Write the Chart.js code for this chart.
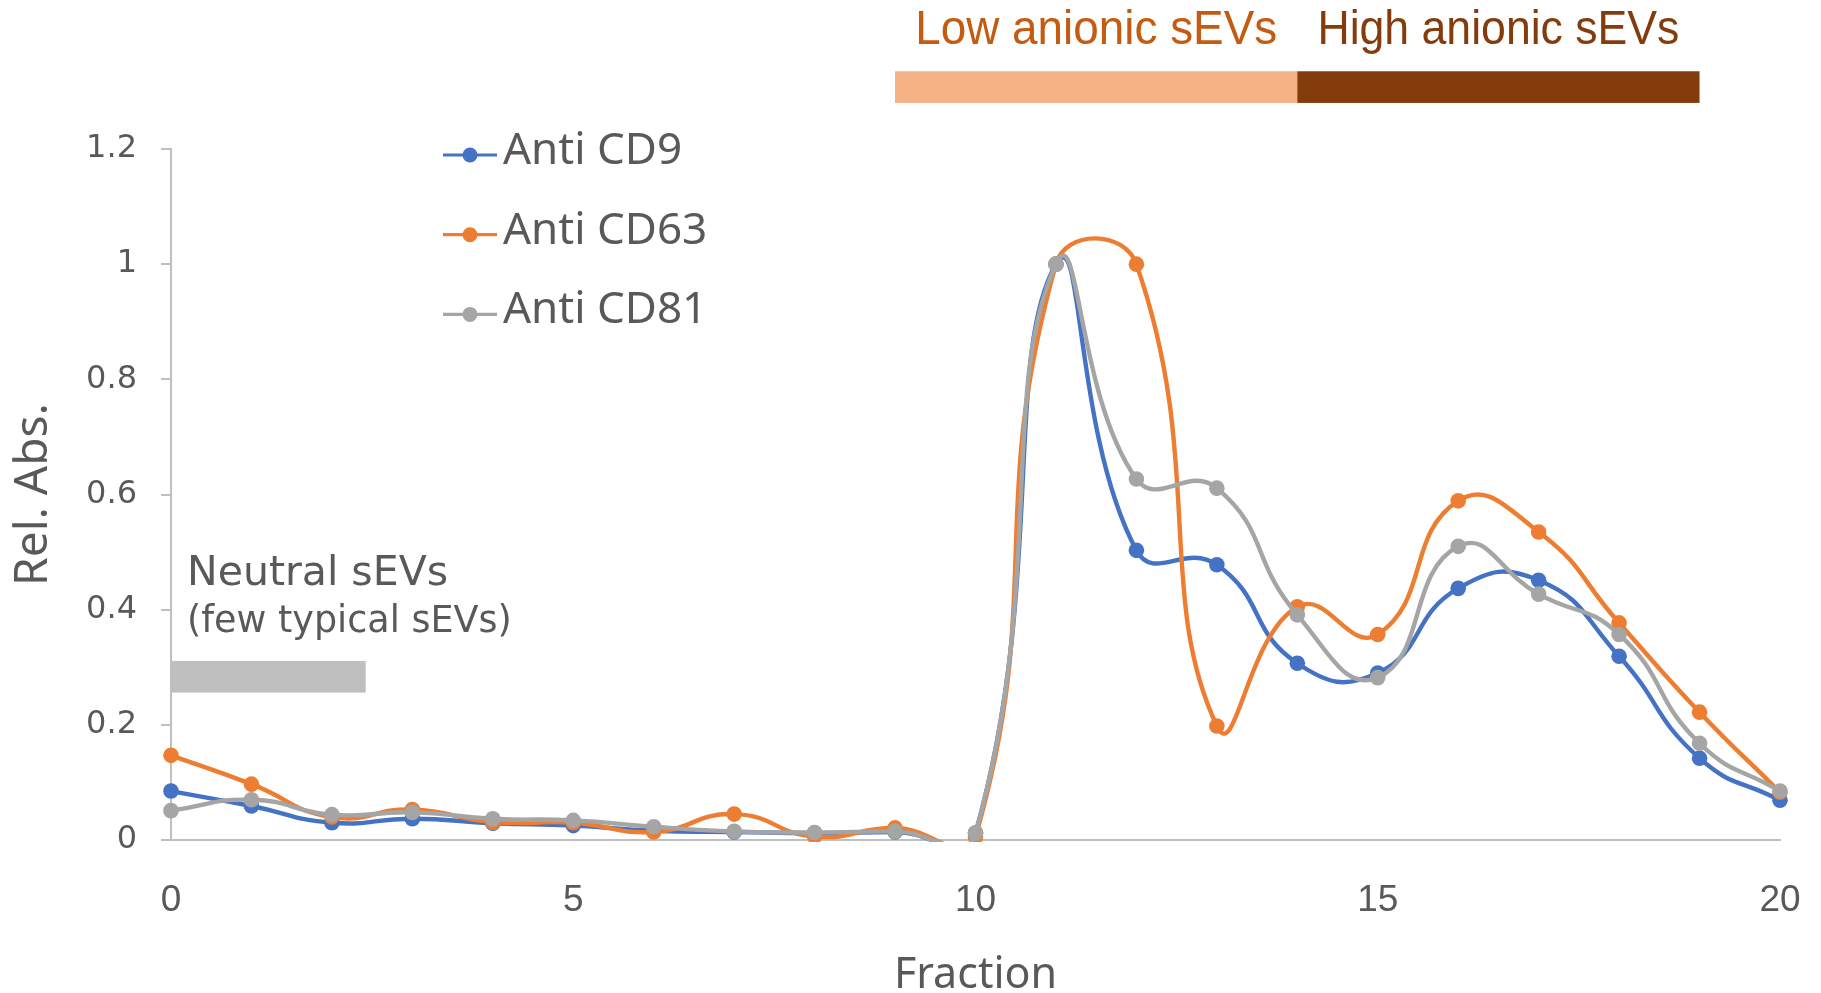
<!DOCTYPE html>
<html>
<head>
<meta charset="utf-8">
<script src="https://cdn.jsdelivr.net/npm/chart.js@4.4.1/dist/chart.umd.min.js"></script>
<style>
  html, body { margin: 0; padding: 0; background: #ffffff; }
  #wrap { width: 1821px; height: 993px; position: relative; }
</style>
</head>
<body>
<div id="wrap"><canvas id="chart" width="1821" height="993"></canvas></div>
<script>
// Fraction numbers on the x axis
const fractions = [0, 1, 2, 3, 4, 5, 6, 7, 8, 9, 10, 11, 12, 13, 14, 15, 16, 17, 18, 19, 20];

// Relative absorbance per fraction
const antiCD9  = [0.085, 0.059, 0.030, 0.037, 0.029, 0.025, 0.016, 0.014, 0.012, 0.014, 0.012, 1.000, 0.503, 0.478, 0.307, 0.290, 0.437, 0.451, 0.319, 0.142, 0.069];
const antiCD63 = [0.147, 0.097, 0.040, 0.053, 0.031, 0.030, 0.014, 0.045, 0.006, 0.021, 0.005, 1.000, 1.000, 0.198, 0.405, 0.357, 0.589, 0.535, 0.377, 0.222, 0.083];
const antiCD81 = [0.051, 0.070, 0.044, 0.048, 0.037, 0.034, 0.023, 0.015, 0.013, 0.015, 0.012, 1.000, 0.627, 0.611, 0.391, 0.282, 0.510, 0.427, 0.357, 0.168, 0.085];

const seriesNames = ['Anti CD9', 'Anti CD63', 'Anti CD81'];
const seriesColors = ['#4472C4', '#ED7D31', '#A5A5A5'];

const xTickLabels = ['0', '5', '10', '15', '20'];
const yTickLabels = ['0', '0.2', '0.4', '0.6', '0.8', '1', '1.2'];

// Fraction ranges of the sEV groups
const neutralSpan = [0, 2.42];
const neutralBand = [0.256, 0.311];
const neutralLabels = ['Neutral sEVs', '(few typical sEVs)'];
const anionicSpans = [[9, 14], [14, 19]];
const anionicBand = [1.28, 1.335];
const anionicLabels = ['Low anionic sEVs', 'High anionic sEVs'];
const anionicColors = ['#F4B183', '#843C0C'];
const anionicTextColors = ['#C55A11', '#843C0C'];

const textGrey = '#595959';
const axisGrey = '#BFBFBF';
const narrowFont = '"Liberation Sans Narrow", "Liberation Sans", sans-serif';

const toPoints = vals => fractions.map((f, i) => ({ x: f, y: vals[i] }));
const seriesValues = [antiCD9, antiCD63, antiCD81];

const datasets = seriesValues.map((vals, i) => ({
  label: seriesNames[i],
  data: toPoints(vals),
  borderColor: seriesColors[i],
  backgroundColor: seriesColors[i],
  pointBackgroundColor: seriesColors[i],
  order: 2 - i,
  clip: { left: 12, right: 12, top: 12, bottom: 2 }
}));

// Group bars, group captions and the in-plot legend
const decorations = {
  id: 'decorations',
  beforeDatasetsDraw(chart) {
    const { ctx, scales: { x, y } } = chart;
    ctx.save();
    // neutral band
    ctx.fillStyle = axisGrey;
    const nx0 = x.getPixelForValue(neutralSpan[0]);
    const nx1 = x.getPixelForValue(neutralSpan[1]);
    const ny0 = y.getPixelForValue(neutralBand[1]);
    const ny1 = y.getPixelForValue(neutralBand[0]);
    ctx.fillRect(nx0, ny0, nx1 - nx0, ny1 - ny0);
    ctx.fillStyle = textGrey;
    ctx.textAlign = 'left';
    ctx.textBaseline = 'alphabetic';
    ctx.font = '41px "DejaVu Sans"';
    ctx.fillText(neutralLabels[0], nx0 + 16, y.getPixelForValue(0.442));
    ctx.font = '36.5px "DejaVu Sans"';
    ctx.fillText(neutralLabels[1], nx0 + 16, y.getPixelForValue(0.362));
    ctx.restore();
  },
  afterDraw(chart) {
    const { ctx, scales: { x, y } } = chart;
    ctx.save();
    // anionic group bars and captions above the plot
    const by0 = y.getPixelForValue(anionicBand[1]);
    const by1 = y.getPixelForValue(anionicBand[0]);
    anionicSpans.forEach((span, i) => {
      const x0 = x.getPixelForValue(span[0]);
      const x1 = x.getPixelForValue(span[1]);
      ctx.fillStyle = anionicColors[i];
      ctx.fillRect(x0, by0, x1 - x0, by1 - by0);
      ctx.fillStyle = anionicTextColors[i];
      ctx.font = '48px ' + narrowFont;
      ctx.textAlign = 'center';
      ctx.textBaseline = 'alphabetic';
      ctx.fillText(anionicLabels[i], (x0 + x1) / 2, 44, 362);
    });
    // legend
    chart.data.datasets.forEach((ds, i) => {
      const ly = 155 + i * 79.7;
      ctx.strokeStyle = ds.borderColor;
      ctx.lineWidth = 3.2;
      ctx.beginPath();
      ctx.moveTo(443, ly);
      ctx.lineTo(497, ly);
      ctx.stroke();
      ctx.fillStyle = ds.borderColor;
      ctx.beginPath();
      ctx.arc(470, ly, 7.5, 0, Math.PI * 2);
      ctx.fill();
      ctx.fillStyle = textGrey;
      ctx.font = '44px "Noto Sans"';
      ctx.textAlign = 'left';
      ctx.textBaseline = 'alphabetic';
      ctx.fillText(ds.label, 503, ly + 9);
    });
    ctx.restore();
  }
};

new Chart(document.getElementById('chart'), {
  type: 'line',
  data: { datasets },
  options: {
    responsive: false,
    animation: false,
    devicePixelRatio: 1,
    layout: { padding: { left: 0, right: 41, top: 149, bottom: 0 } },
    elements: {
      line: { tension: 0.5, borderWidth: 4.4, capBezierPoints: false },
      point: { radius: 7.8, hoverRadius: 7.8, borderWidth: 0 }
    },
    plugins: { legend: { display: false }, tooltip: { enabled: false } },
    scales: {
      x: {
        type: 'linear',
        min: 0,
        max: 20,
        ticks: {
          stepSize: 5,
          padding: 31,
          color: textGrey,
          font: { family: narrowFont, size: 37 },
          callback: (v, i) => xTickLabels[i]
        },
        grid: { display: false },
        border: { display: true, color: axisGrey, width: 2 },
        title: {
          display: true,
          text: 'Fraction',
          color: textGrey,
          font: { family: 'Noto Sans', size: 43, lineHeight: 0.8 },
          padding: { top: 0, bottom: 0 }
        },
        afterFit: s => { s.height = 153; s.paddingLeft = 0; s.paddingRight = 0; }
      },
      y: {
        min: 0,
        max: 1.2,
        ticks: {
          stepSize: 0.2,
          padding: 24,
          color: textGrey,
          font: { family: 'DejaVu Sans', size: 32 },
          callback: (v, i) => yTickLabels[i]
        },
        grid: { drawOnChartArea: false, drawTicks: true, tickLength: 10, color: axisGrey, lineWidth: 2 },
        border: { display: true, color: axisGrey, width: 2 },
        title: {
          display: true,
          text: 'Rel. Abs.',
          color: textGrey,
          font: { family: 'Noto Sans', size: 46, lineHeight: 1 },
          padding: { top: 11, bottom: 0 }
        },
        afterFit: s => { s.width = 171; s.paddingTop = 0; s.paddingBottom = 0; }
      }
    }
  },
  plugins: [decorations]
});
</script>
</body>
</html>
